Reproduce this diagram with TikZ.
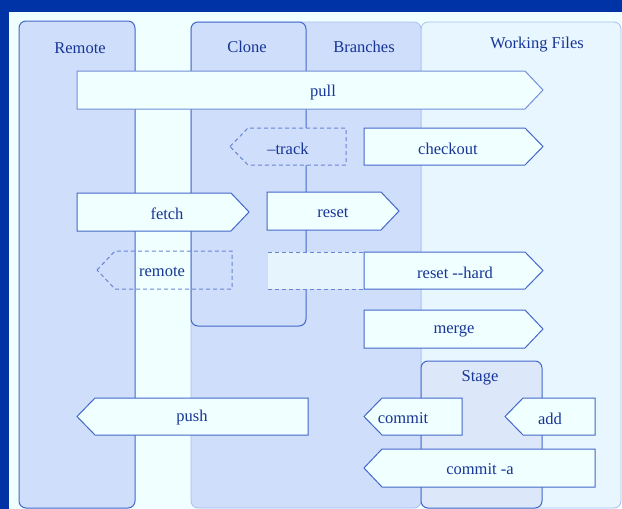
\documentclass[tikz,border=0pt]{standalone}
\usepackage{fontspec}
\setmainfont{Liberation Serif}
\definecolor{frameblue}{HTML}{0033A6}
\definecolor{paper}{HTML}{F0FFFF}
\definecolor{lanefill}{HTML}{CEDEFB}
\definecolor{wffill}{HTML}{E8F6FF}
\definecolor{stagefill}{HTML}{DCE8FA}
\definecolor{lineblue}{HTML}{4468CA}
\definecolor{paleblue}{HTML}{A9BFF0}
\definecolor{txtblue}{HTML}{173597}
\definecolor{boxfill}{HTML}{F0FFFF}
\definecolor{ghostfill}{HTML}{E6F4FE}
\tikzset{
  lane/.style={fill=lanefill, draw=lineblue, line width=1pt, rounded corners=7pt},
  palelane/.style={draw=paleblue, line width=0.8pt, rounded corners=7pt},
  abox/.style={fill=boxfill, draw=lineblue, line width=1pt, line join=miter},
  ghost/.style={draw=lineblue!80, line width=1pt, dash pattern=on 4pt off 3pt},
  lbl/.style={text=txtblue, font=\fontsize{16.5}{18}\selectfont, inner sep=0pt, yshift=-1.5pt},
  hdr/.style={text=txtblue, font=\fontsize{16.5}{18}\selectfont, inner sep=0pt, yshift=-1pt}
}
\newcommand\RArrBox[5]{\path[#1] (#2,#4) -- ({#3-18},#4) -- (#3,{(#4+#5)/2}) -- ({#3-18},#5) -- (#2,#5) -- cycle;}
\newcommand\LArrBox[5]{\path[#1] (#2,{(#4+#5)/2}) -- ({#2+18},#4) -- (#3,#4) -- (#3,#5) -- ({#2+18},#5) -- cycle;}
\begin{document}
\begin{tikzpicture}[x=1pt,y=-1pt]
\useasboundingbox (0,0) rectangle (622,509);
\fill[frameblue] (0,0) rectangle (622,509);
\fill[paper] (9,12) rectangle (640,530);
% lanes
\path[fill=wffill, palelane] (421,22) rectangle (621,508);
\path[fill=lanefill, palelane] (191,22) rectangle (421,508);
\path[lane] (191,22) rectangle (306,326);
\path[lane] (19,21) rectangle (135,508);
\path[lane, fill=stagefill] (421,361) rectangle (542,508);
% headers
\node[hdr] (remote) at (80,47) {Remote};
\node[hdr] (clone) at (247,46) {Clone};
\node[hdr] (branches) at (364,46) {Branches};
\node[hdr] (wf) at (537,44) {Working Files};
\node[hdr] (stage) at (480,377) {Stage};
% arrows
\RArrBox{abox, draw=lineblue!75}{77}{543}{71}{109}
\node[lbl] (pull) at (323,91) {pull};
\LArrBox{ghost, fill=lanefill}{230}{346}{128}{165}
\node[lbl] (track) at (288,147) {--track};
\RArrBox{abox}{364}{543}{128}{165}
\node[lbl] (checkout) at (448,147) {checkout};
\RArrBox{abox}{77}{249}{193}{231}
\node[lbl] (fetch) at (167,212) {fetch};
\RArrBox{abox}{267}{399}{192}{230}
\node[lbl] (reset) at (333,211) {reset};
\LArrBox{ghost}{97}{232}{251}{289}
\node[lbl] (remotecmd) at (162,270) {remote};
\fill[ghostfill] (268,252) rectangle (364,289);
\draw[ghost] (268,252) -- (364,252);
\draw[ghost] (268,289) -- (364,289);
\RArrBox{abox}{364}{543}{252}{289}
\node[lbl] (resethard) at (455,271) {reset -{}-hard};
\RArrBox{abox}{364}{543}{310}{348}
\node[lbl] (merge) at (454,330) {merge};
\LArrBox{abox}{77}{308}{398}{435}
\node[lbl] (push) at (192,416) {push};
\LArrBox{abox}{364}{462}{398}{435}
\node[lbl] (commit) at (403,417) {commit};
\LArrBox{abox}{505}{595}{398}{435}
\node[lbl] (add) at (550,417) {add};
\LArrBox{abox}{364}{595}{449}{487}
\node[lbl] (commita) at (480,468) {commit -a};
\end{tikzpicture}
\end{document}
